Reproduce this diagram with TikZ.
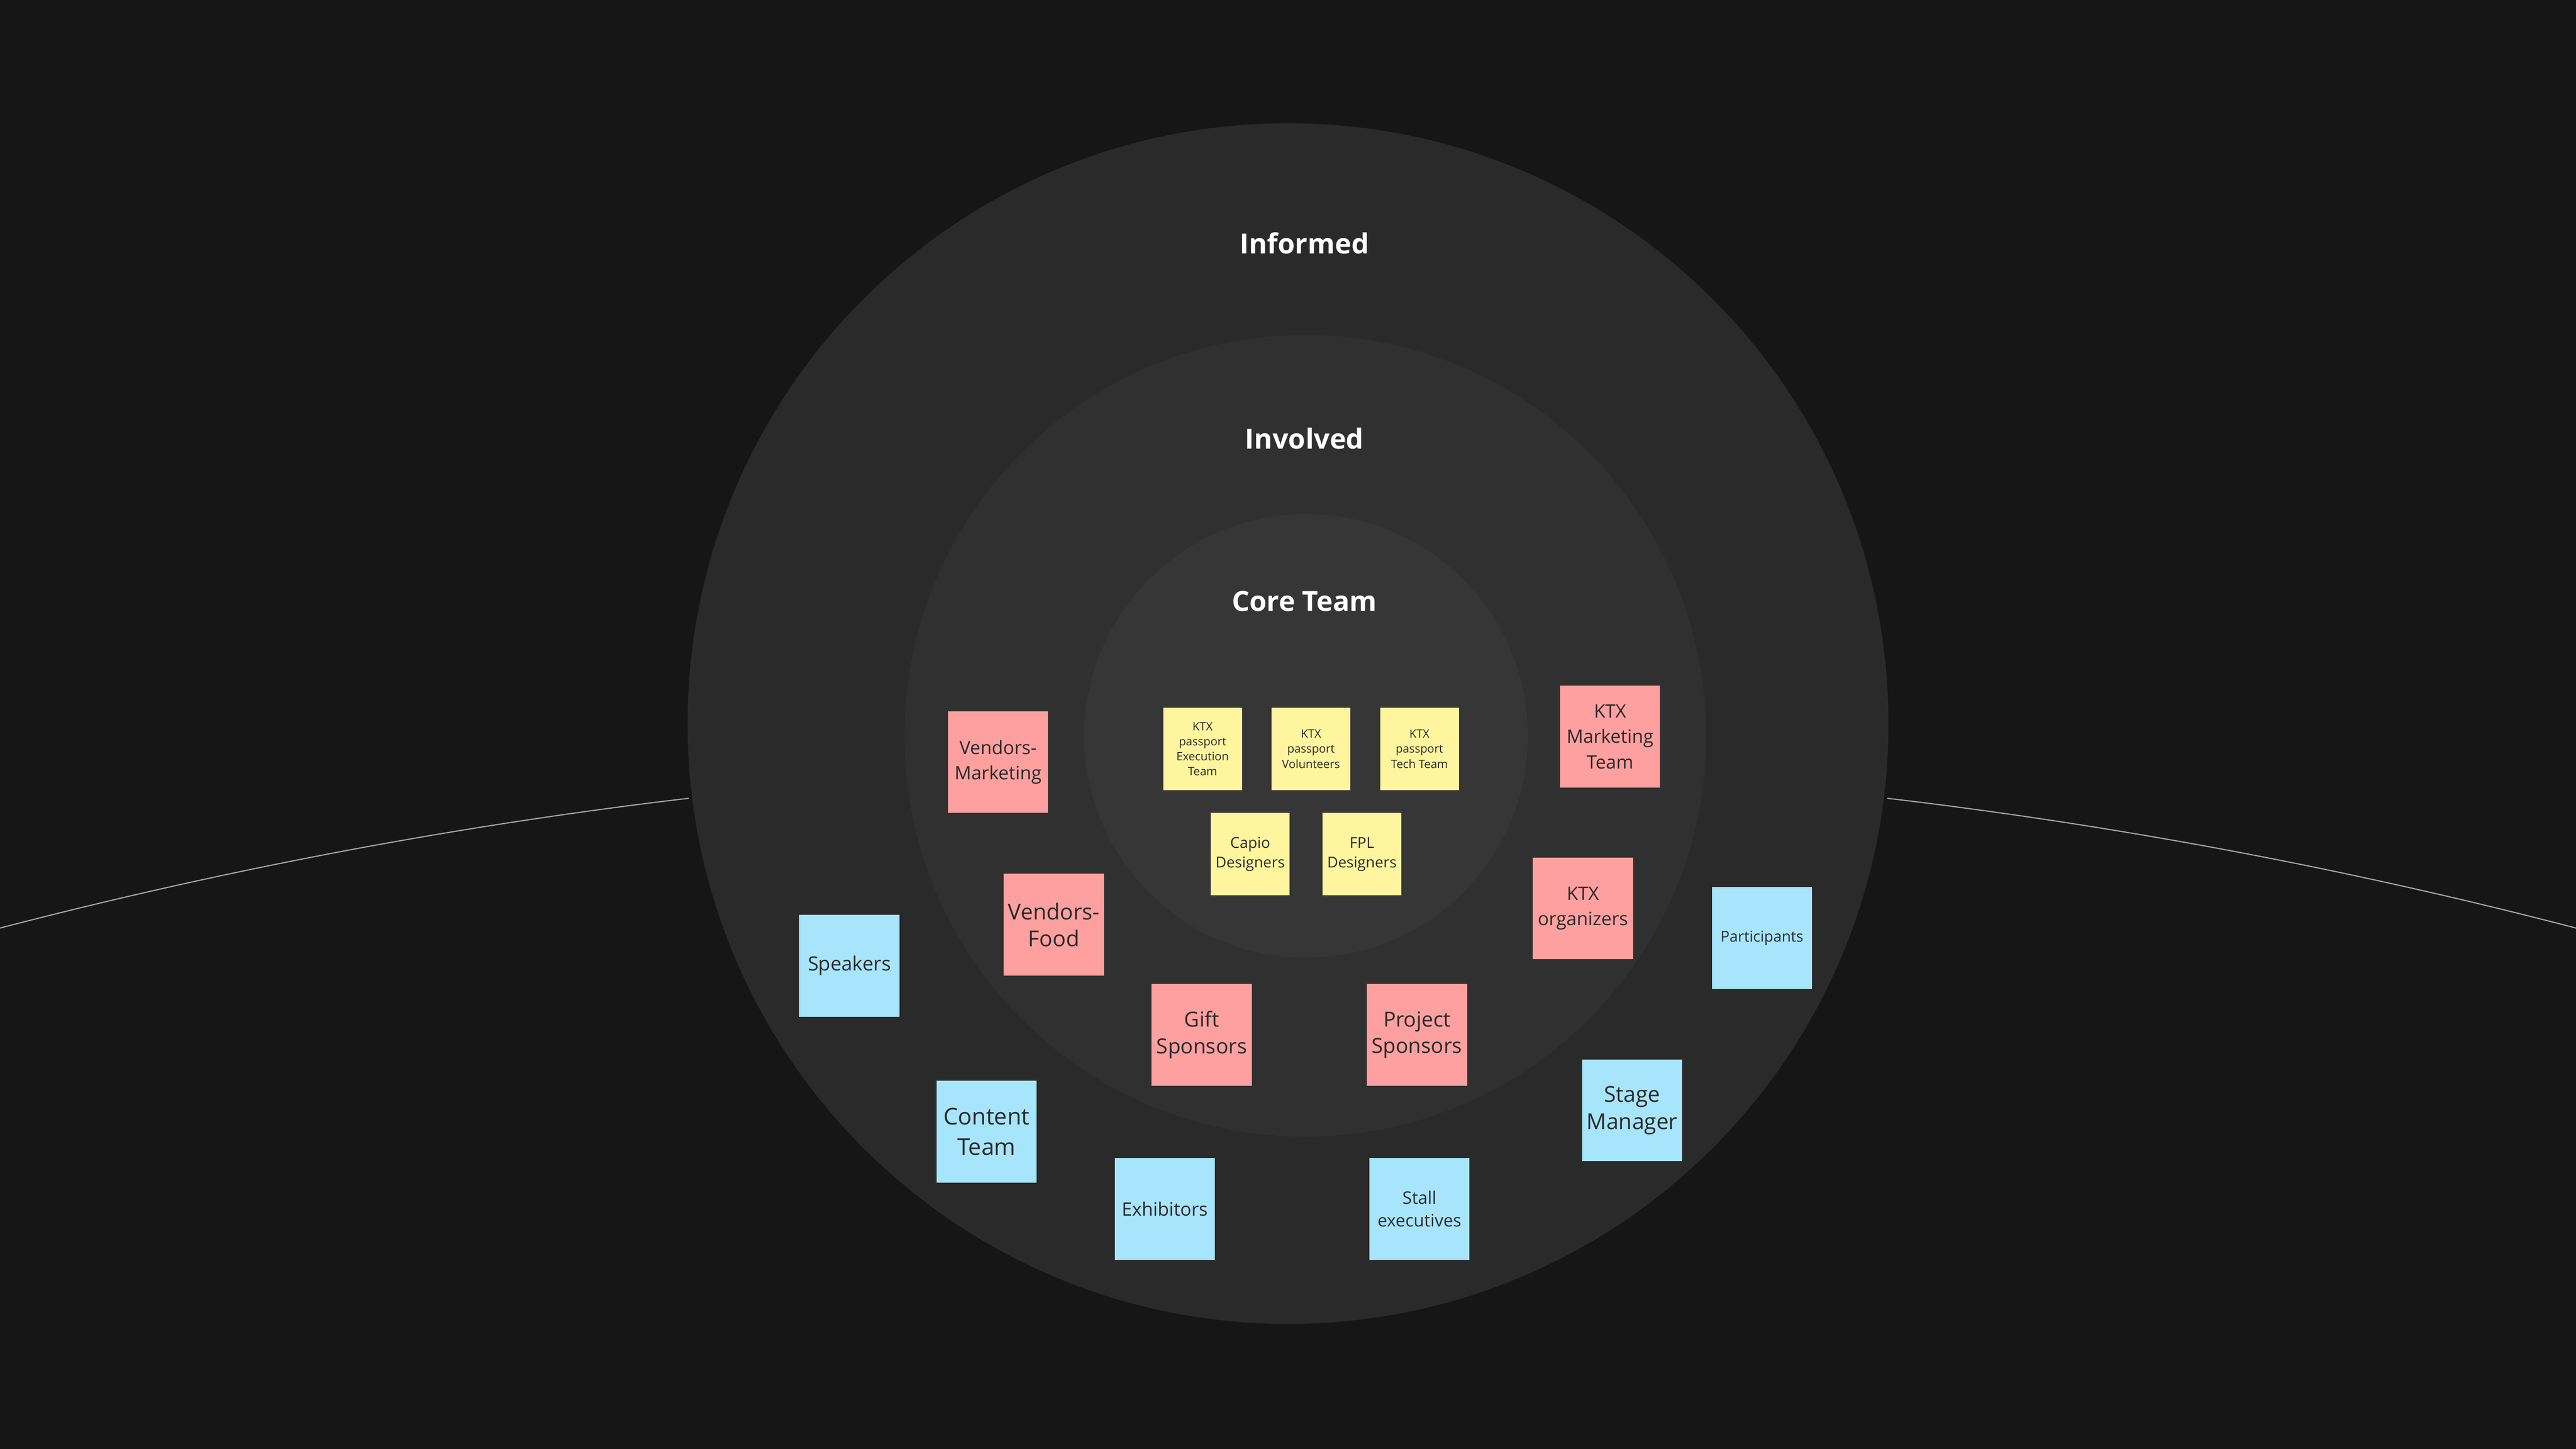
\documentclass[tikz,border=0pt]{standalone}
\usepackage{fontspec}
\setmainfont{Open Sans}
\definecolor{bg}{HTML}{161616}
\definecolor{ringA}{HTML}{2A2A2A}
\definecolor{ringB}{HTML}{303030}
\definecolor{ringC}{HTML}{363636}
\definecolor{yel}{HTML}{FFF59E}
\definecolor{pnk}{HTML}{FFA0A0}
\definecolor{blu}{HTML}{A7E5FC}
\definecolor{ink}{HTML}{2A2A2A}
\tikzset{
  note/.style={inner sep=0pt, align=center, text=ink},
  ynote/.style={note, fill=yel, minimum width=4.8cm, minimum height=5cm, font=\fontsize{20}{26}\selectfont},
  pnote/.style={note, fill=pnk, minimum width=6.1cm, minimum height=6.2cm, font=\fontsize{32}{44}\selectfont},
  bnote/.style={note, fill=blu, minimum width=6.1cm, minimum height=6.2cm, font=\fontsize{32}{44}\selectfont},
  ringlabel/.style={text=white, font=\bfseries\fontsize{48}{58}\selectfont}
}
\begin{document}
\begin{tikzpicture}[x=0.1cm,y=-0.1cm]
\fill[bg] (0,0) rectangle (1568,882);
\useasboundingbox (0,0) rectangle (1568,882);
\coordinate (la) at (0,565);
\coordinate (rb) at (1568,565);
\draw[color=gray!70, line width=2pt] (la) arc[start angle=104.61, end angle=96.74, radius=310.8cm];
\draw[color=gray!70, line width=2pt] (rb) arc[start angle=75.39, end angle=83.26, radius=310.8cm];
\fill[ringA] (784,440.5) circle[radius=36.55cm];
\fill[ringB] (794.5,448) circle[radius=24.4cm];
\fill[ringC] (795,448) circle[radius=13.5cm];
\node[ringlabel] (inf) at (794,148) {Informed};
\node[ringlabel] (inv) at (794,267) {Involved};
\node[ringlabel] (core) at (794,366) {Core Team};
% yellow
\node[ynote] (y1) at (732,456) {KTX\\passport\\Execution\\Team};
\node[ynote] (y2) at (798,456) {KTX\\passport\\Volunteers};
\node[ynote] (y3) at (864,456) {KTX\\passport\\Tech Team};
\node[ynote, font=\fontsize{26}{34}\selectfont] (y4) at (761,520) {Capio\\Designers};
\node[ynote, font=\fontsize{26}{34}\selectfont] (y5) at (829,520) {FPL\\Designers};
% pink
\node[pnote] (p1) at (607.5,464) {Vendors-\\Marketing};
\node[pnote, font=\fontsize{38}{46}\selectfont] (p2) at (641.5,563) {Vendors-\\Food};
\node[pnote, font=\fontsize{36}{46}\selectfont] (p3) at (731.5,630) {Gift\\Sponsors};
\node[pnote, font=\fontsize{36}{46}\selectfont] (p4) at (862.5,630) {Project\\Sponsors};
\node[pnote] (p5) at (980,448.5) {KTX\\Marketing\\Team};
\node[pnote] (p6) at (963.5,553) {KTX\\organizers};
% blue
\node[bnote, font=\fontsize{34}{44}\selectfont] (b1) at (517,588) {Speakers};
\node[bnote, font=\fontsize{40}{52}\selectfont] (b2) at (600.5,689) {Content\\Team};
\node[bnote, font=\fontsize{32}{44}\selectfont] (b3) at (709,736) {Exhibitors};
\node[bnote, font=\fontsize{30}{40}\selectfont] (b4) at (864,736) {Stall\\executives};
\node[bnote, font=\fontsize{38}{48}\selectfont] (b5) at (993.5,676) {Stage\\Manager};
\node[bnote, font=\fontsize{26}{34}\selectfont] (b6) at (1072.5,571) {Participants};
\end{tikzpicture}
\end{document}
